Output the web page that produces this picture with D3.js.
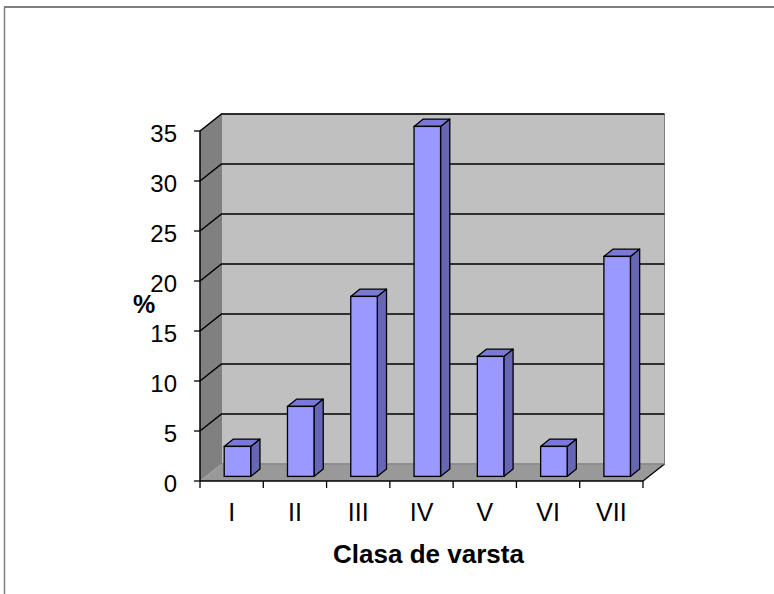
<!DOCTYPE html>
<html><head><meta charset="utf-8">
<script src="https://cdn.jsdelivr.net/npm/d3@7"></script>
<style>body{margin:0;background:#fff;}svg{display:block;font-family:Arial,"Liberation Sans",sans-serif;}</style>
</head><body>
<svg id="c" width="774" height="594"></svg>
<script>
const categories = ["I","II","III","IV","V","VI","VII"];
const values = [3,7,18,35,12,3,22];
const yTicks = [0,5,10,15,20,25,30,35];
const yTitle = "%";
const xTitle = "Clasa de varsta";

const svg = d3.select("#c");
// frame
svg.append("line").attr("x1",4).attr("x2",774).attr("y1",7).attr("y2",7).attr("stroke","#000").attr("stroke-width",1.2);
svg.append("line").attr("x1",4.5).attr("x2",4.5).attr("y1",7).attr("y2",594).attr("stroke","#808080").attr("stroke-width",1.5);

const x0 = 200, x1 = 643, yBase = 481;
const DX = 21.5, DY = -17;
const y = d3.scaleLinear().domain([0,35]).range([yBase, yBase-350]);
const x = d3.scaleBand().domain(categories).range([x0,x1]);

const g = svg.append("g");
// back wall
g.append("polygon").attr("points",[[x0+DX,y(35)+DY],[x1+DX,y(35)+DY],[x1+DX,yBase+DY],[x0+DX,yBase+DY]].join(" "))
 .attr("fill","#c0c0c0").attr("stroke","#808080").attr("stroke-width",1);
// left wall
g.append("polygon").attr("points",[[x0,y(35)],[x0+DX,y(35)+DY],[x0+DX,yBase+DY],[x0,yBase]].join(" "))
 .attr("fill","#808080").attr("stroke","none");
// floor
g.append("polygon").attr("points",[[x0,yBase],[x0+DX,yBase+DY],[x1+DX,yBase+DY],[x1,yBase]].join(" "))
 .attr("fill","#999999").attr("stroke","none");
g.append("line").attr("x1",x1).attr("y1",yBase).attr("x2",x1+DX).attr("y2",yBase+DY).attr("stroke","#000").attr("stroke-width",1.3);
g.append("line").attr("x1",x0+DX).attr("y1",yBase+DY).attr("x2",x1+DX).attr("y2",yBase+DY).attr("stroke","#808080").attr("stroke-width",1);
// gridlines
yTicks.filter(v=>v>0).forEach(v=>{
  g.append("path").attr("d",`M${x0},${y(v)}L${x0+DX},${y(v)+DY}L${x1+DX},${y(v)+DY}`)
   .attr("fill","none").attr("stroke","#000").attr("stroke-width",1.5);
});
// axes lines
g.append("line").attr("x1",x0).attr("x2",x0).attr("y1",y(35)).attr("y2",yBase).attr("stroke","#000").attr("stroke-width",1.5);
g.append("line").attr("x1",x0).attr("x2",x1).attr("y1",yBase).attr("y2",yBase).attr("stroke","#000").attr("stroke-width",1.5);
// y ticks
yTicks.forEach(v=>{
  g.append("line").attr("x1",x0-6).attr("x2",x0).attr("y1",y(v)).attr("y2",y(v)).attr("stroke","#000").attr("stroke-width",1.3);
  g.append("text").attr("x",177).attr("y",y(v)+11).attr("text-anchor","end").attr("font-size",24).text(v);
});
// x ticks
d3.range(categories.length+1).forEach(i=>{
  const xx = x0 + i*x.step();
  g.append("line").attr("x1",xx).attr("x2",xx).attr("y1",yBase).attr("y2",yBase+7).attr("stroke","#000").attr("stroke-width",1.3);
});
categories.forEach(c=>{
  g.append("text").attr("x",x(c)+x.bandwidth()/2).attr("y",521).attr("text-anchor","middle").attr("font-size",25).text(c);
});
// bars
const f0 = 0.27, f1 = 0.70, bw = 26.5;
categories.forEach((c,i)=>{
  const cx = x(c)+x.bandwidth()/2 + DX*f0;
  const bY = yBase + DY*f0;
  const h = y(0) - y(values[i]);
  const L = cx-bw/2, R = cx+bw/2, T = bY-h;
  const ddx = DX*(f1-f0), ddy = DY*(f1-f0);
  g.append("polygon").attr("points",[[R,T],[R+ddx,T+ddy],[R+ddx,bY+ddy],[R,bY]].join(" "))
    .attr("fill","#6666b3").attr("stroke","#000").attr("stroke-width",1.3).attr("stroke-linejoin","round");
  g.append("polygon").attr("points",[[L,T],[L+ddx,T+ddy],[R+ddx,T+ddy],[R,T]].join(" "))
    .attr("fill","#7a7ad6").attr("stroke","#000").attr("stroke-width",1.3).attr("stroke-linejoin","round");
  g.append("rect").attr("x",L).attr("y",T).attr("width",bw).attr("height",h)
    .attr("fill","#9999ff").attr("stroke","#000").attr("stroke-width",1.3);
});
// titles
svg.append("text").attr("x",144).attr("y",313).attr("text-anchor","middle").attr("font-size",25).attr("font-weight","bold").text(yTitle);
svg.append("text").attr("x",428.5).attr("y",563).attr("text-anchor","middle").attr("font-size",26).attr("font-weight","bold").text(xTitle);
</script>
</body></html>
